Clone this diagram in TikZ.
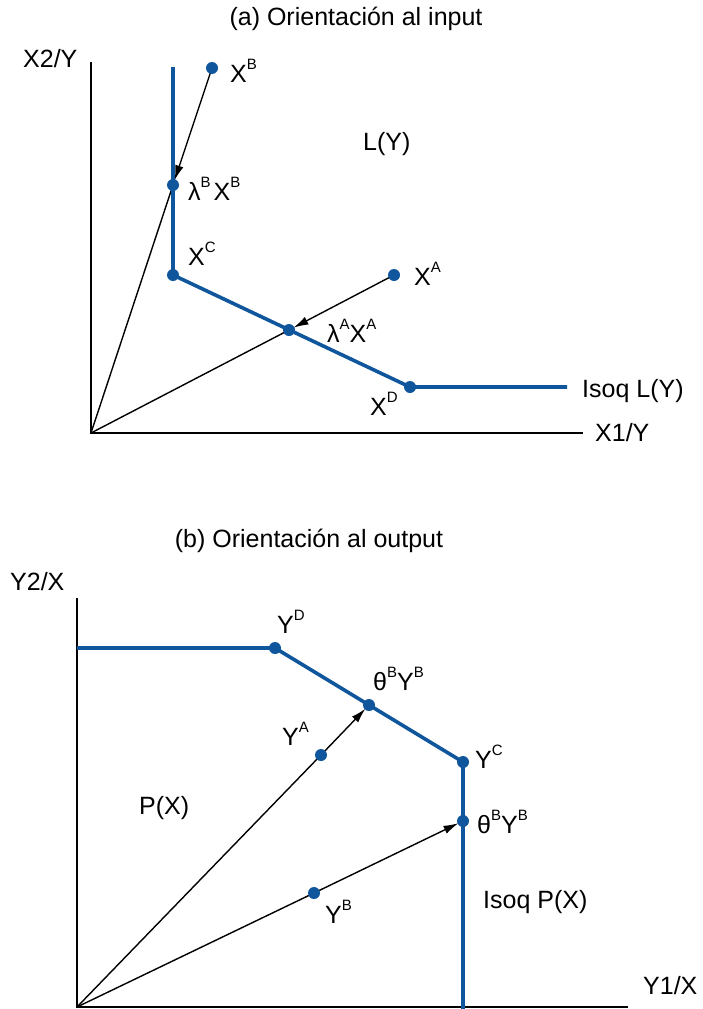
\documentclass[tikz,border=0pt]{standalone}
\usepackage{fontspec}
\setmainfont{Liberation Sans}
\usetikzlibrary{arrows.meta}
\definecolor{isoblue}{RGB}{16,86,156}
\newcommand{\supx}[1]{\raisebox{12.5pt}{\fontsize{15}{15}\selectfont #1}}
\begin{document}
\begin{tikzpicture}[x=1pt,y=-1pt,
  axis/.style={line width=1.6pt,black},
  iso/.style={line width=3.6pt,isoblue},
  ray/.style={line width=1.4pt,black},
  arr/.style={ray,-{Latex[length=15pt,width=8.5pt]},shorten >=5pt},
  dot/.style={circle,fill=isoblue,inner sep=0pt,minimum size=12pt},
  lbl/.style={anchor=base west,inner sep=0pt,font=\fontsize{25}{30}\selectfont},
  ttl/.style={anchor=base,inner sep=0pt,font=\fontsize{25}{30}\selectfont}]
\useasboundingbox (0,0) rectangle (703,1009);

% ---------- (a) input orientation ----------
\coordinate (O1) at (91,433);
\coordinate (Ytop1) at (91,62);
\coordinate (Xend1) at (583,433);
\coordinate (xb) at (212,68);
\coordinate (lb) at (173,185);
\coordinate (xc) at (173,275);
\coordinate (xa) at (394,275);
\coordinate (la) at (289,330);
\coordinate (xd) at (410,387);
\coordinate (itop) at (173,67);
\coordinate (iend) at (567,387);

\draw[axis] (Ytop1) -- (O1) -- (Xend1);
\draw[ray] (O1) -- (lb);
\draw[ray] (O1) -- (la);
\draw[iso] (itop) -- (xc) -- (xd) -- (iend);
\draw[arr] (xb) -- (lb);
\draw[arr] (xa) -- (la);

\node[dot] (XB) at (xb) {};
\node[dot] (LB) at (lb) {};
\node[dot] (XC) at (xc) {};
\node[dot] (XA) at (xa) {};
\node[dot] (LA) at (la) {};
\node[dot] (XD) at (xd) {};

\node[ttl] (ta) at (356,25) {(a) Orientación al input};
\node[lbl] (tX2) at (23,67) {X2/Y};
\node[lbl] (tX1) at (595,441) {X1/Y};
\node[lbl] (tXB) at (230,82) {X\supx{B}};
\node[lbl] (tLB) at (188,200) {λ\supx{B}\hspace{3pt}X\supx{B}};
\node[lbl] (tXC) at (188,265) {X\supx{C}};
\node[lbl] (tXA) at (414,285) {X\supx{A}};
\node[lbl] (tLA) at (327,342) {λ\supx{A}X\supx{A}};
\node[lbl] (tXD) at (370,415) {X\supx{D}};
\node[lbl] (tIso1) at (582,397) {Isoq L(Y)};
\node[lbl] (tLY) at (363,150) {L(Y)};

% ---------- (b) output orientation ----------
\coordinate (O2) at (77,1007);
\coordinate (Ytop2) at (77,598);
\coordinate (Xend2) at (628,1007);
\coordinate (ileft) at (77,648);
\coordinate (yd) at (275,648);
\coordinate (tb1) at (369,705);
\coordinate (yc) at (463,762);
\coordinate (tb2) at (463,821);
\coordinate (ibot) at (463,1009);
\coordinate (ya) at (321,755);
\coordinate (yb) at (314,893);

\draw[axis] (Ytop2) -- (O2) -- (Xend2);
\draw[ray] (O2) -- (ya);
\draw[ray] (O2) -- (yb);
\draw[iso] (ileft) -- (yd) -- (tb1) -- (yc) -- (tb2) -- (ibot);
\draw[arr] (ya) -- (tb1);
\draw[arr] (yb) -- (tb2);

\node[dot] (YD) at (yd) {};
\node[dot] (TB1) at (tb1) {};
\node[dot] (YC) at (yc) {};
\node[dot] (TB2) at (tb2) {};
\node[dot] (YA) at (ya) {};
\node[dot] (YB) at (yb) {};

\node[ttl] (tb) at (309,547) {(b) Orientación al output};
\node[lbl] (tY2) at (10,590) {Y2/X};
\node[lbl] (tY1) at (643,994) {Y1/X};
\node[lbl] (tYD) at (277,633) {Y\supx{D}};
\node[lbl] (tTB1) at (373,690) {θ\supx{B}Y\supx{B}};
\node[lbl] (tYA) at (282,745) {Y\supx{A}};
\node[lbl] (tYC) at (475,768) {Y\supx{C}};
\node[lbl] (tTB2) at (477,833) {θ\supx{B}Y\supx{B}};
\node[lbl] (tYB) at (325,923) {Y\supx{B}};
\node[lbl] (tIso2) at (483,908) {Isoq P(X)};
\node[lbl] (tPX) at (139,814) {P(X)};
\end{tikzpicture}
\end{document}
